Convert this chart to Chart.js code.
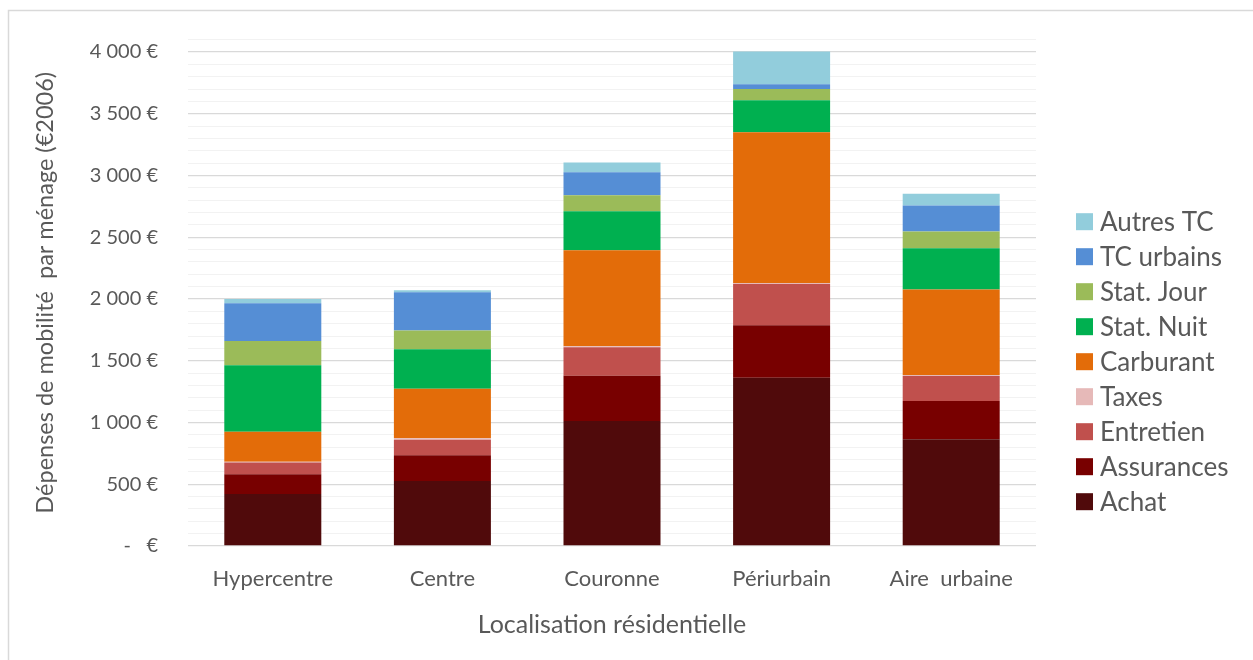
<!DOCTYPE html>
<html>
<head>
<meta charset="utf-8">
<script src="https://cdn.jsdelivr.net/npm/chart.js@4/dist/chart.umd.min.js"></script>
<style>
html,body{margin:0;padding:0;background:#fff;}
#wrap{position:relative;width:1253px;height:660px;}
</style>
</head>
<body>
<div id="wrap"><canvas id="c"></canvas></div>
<script>
const categories = ['Hypercentre', 'Centre', 'Couronne', 'Périurbain', 'Aire  urbaine'];
const achat      = [421, 526, 1012, 1363, 865];
const assurances = [159, 208, 367, 424, 308];
const entretien  = [97, 127, 230, 334, 203];
const taxes      = [6, 11, 8, 9, 8];
const carburant  = [243, 402, 777, 1219, 692];
const statNuit   = [537, 318, 316, 260, 335];
const statJour   = [197, 152, 129, 91, 135];
const tcUrbains  = [305, 310, 187, 38, 211];
const autresTC   = [35, 16, 78, 265, 95];
const seriesNames = ['Achat', 'Assurances', 'Entretien', 'Taxes', 'Carburant', 'Stat. Nuit', 'Stat. Jour', 'TC urbains', 'Autres TC'];
const yTickValues = [0, 500, 1000, 1500, 2000, 2500, 3000, 3500, 4000];

const seriesData = [achat, assurances, entretien, taxes, carburant, statNuit, statJour, tcUrbains, autresTC];
const colors = ['#500A0B', '#780000', '#C0504D', '#E6B9B8', '#E36C09', '#00B050', '#9BBB59', '#558ED5', '#92CDDC'];

const FONT = 'Lato, "Open Sans", sans-serif';
const TXT = '#595959';

function fmt(v) {
  if (v === 0) return '-\u00a0\u00a0\u00a0€';
  const s = String(v);
  const th = s.length > 3 ? s.slice(0, s.length - 3) + ' ' + s.slice(s.length - 3) : s;
  return th + ' €';
}

const framePlugin = {
  id: 'frame',
  beforeDraw(chart) {
    const ctx = chart.ctx;
    ctx.save();
    ctx.fillStyle = '#fff';
    ctx.fillRect(0, 0, chart.width, chart.height);
    ctx.strokeStyle = '#D9D9D9';
    ctx.lineWidth = 1.5;
    ctx.strokeRect(8.5, 10.5, 1400, 800);
    ctx.restore();
  }
};

const legendPlugin = {
  id: 'customLegend',
  afterDraw(chart) {
    const ctx = chart.ctx;
    const ds = chart.data.datasets.slice().reverse();
    ctx.save();
    ctx.font = '26px ' + FONT;
    ctx.textBaseline = 'middle';
    ctx.textAlign = 'left';
    ds.forEach((d, i) => {
      const cy = 221.7 + i * 35;
      ctx.fillStyle = d.backgroundColor;
      ctx.fillRect(1076, cy - 8.5, 17, 17);
      ctx.fillStyle = TXT;
      ctx.fillText(d.label, 1100, cy + 1);
    });
    ctx.restore();
  }
};

new Chart(document.getElementById('c'), {
  type: 'bar',
  data: {
    labels: categories,
    datasets: seriesNames.map((n, i) => ({
      label: n,
      data: seriesData[i],
      backgroundColor: colors[i],
      borderWidth: 0,
      categoryPercentage: 1,
      barPercentage: 0.572
    }))
  },
  options: {
    responsive: true,
    maintainAspectRatio: false,
    animation: false,
    layout: { padding: { left: 0, right: 217, top: 39.6, bottom: 0 } },
    plugins: { legend: { display: false }, tooltip: { enabled: false } },
    scales: {
      x: {
        stacked: true,
        grid: { display: false, drawTicks: false },
        border: { display: false },
        ticks: { color: TXT, font: { family: FONT, size: 22 }, padding: 20, maxRotation: 0 },
        title: { display: true, text: 'Localisation résidentielle', color: TXT, font: { family: FONT, size: 25 }, padding: { top: 0, bottom: 20 } },
        afterFit(scale) { scale.height = 114; }
      },
      y: {
        stacked: true,
        min: 0,
        max: 4100,
        border: { display: false },
        grid: {
          drawTicks: false,
          color: (c) => (yTickValues.includes(c.tick.value) ? '#D9D9D9' : '#F2F2F2'),
          lineWidth: (c) => (yTickValues.includes(c.tick.value) ? 1.3 : 1)
        },
        ticks: {
          stepSize: 100,
          autoSkip: false,
          color: TXT,
          font: { family: FONT, size: 20 },
          padding: 30,
          callback: (v) => (yTickValues.includes(v) ? fmt(v) : '')
        },
        title: { display: true, text: 'Dépenses de mobilité  par ménage (€2006)', color: TXT, font: { family: FONT, size: 23.5 }, padding: { top: 30.9, bottom: 0 } },
        afterFit(scale) { scale.width = 188; scale.paddingTop = 0; scale.paddingBottom = 0; }
      }
    }
  },
  plugins: [framePlugin, legendPlugin]
});
</script>
</body>
</html>
